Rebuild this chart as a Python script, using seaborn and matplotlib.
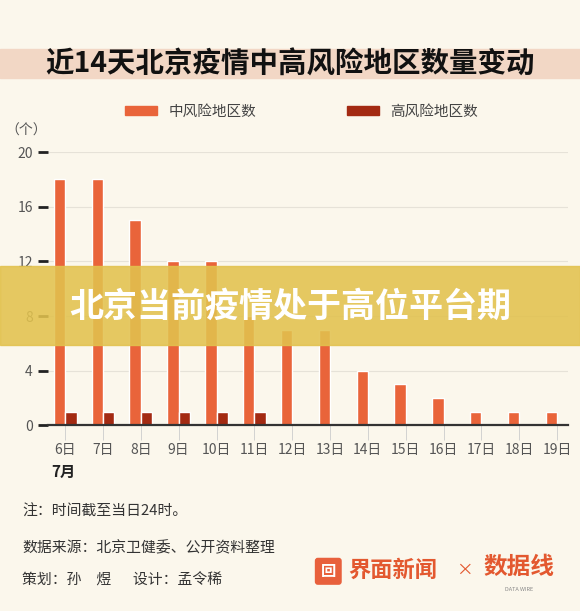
import seaborn as sns
import matplotlib.pyplot as plt
import pandas as pd
from matplotlib.patches import Rectangle, Patch, FancyBboxPatch

days = ['6日', '7日', '8日', '9日', '10日', '11日', '12日', '13日', '14日', '15日', '16日', '17日', '18日', '19日']
mid_risk = [18, 18, 15, 12, 12, 8, 7, 7, 4, 3, 2, 1, 1, 1]
high_risk = [1, 1, 1, 1, 1, 1, 0, 0, 0, 0, 0, 0, 0, 0]
series = ['中风险地区数', '高风险地区数']
colors = ['#E9643A', '#A32A12']
yticks = [0, 4, 8, 12, 16, 20]

bg = '#FBF7EC'
sns.set_theme(style='white')
plt.rcParams['font.family'] = ['Noto Sans CJK SC', 'DejaVu Sans']

df = pd.DataFrame({
    'day': days * 2,
    'value': mid_risk + high_risk,
    'type': [series[0]] * len(days) + [series[1]] * len(days),
})

fig = plt.figure(figsize=(5.8, 6.11), dpi=100, facecolor=bg)
ax = fig.add_axes([0.083, 0.304, 0.897, 0.447], facecolor=bg)

sns.barplot(data=df, x='day', y='value', hue='type', palette=colors, width=0.6,
            saturation=1, ax=ax, legend=False)
ax.set_xlim(-0.45, 13.3)
ax.set_ylim(0, 20)
ax.set_yticks(yticks)
ax.set_xlabel('')
ax.set_ylabel('')
for y in yticks[1:]:
    ax.axhline(y, color='#E6E2D8', lw=0.8, zorder=0)
for s in ['top', 'right', 'left']:
    ax.spines[s].set_visible(False)
ax.spines['bottom'].set_color('#333333')
ax.spines['bottom'].set_linewidth(1.6)
ax.tick_params(axis='y', length=7, width=2, color='#222222', labelsize=10,
               labelcolor='#555555', pad=4, left=True)
ax.tick_params(axis='x', length=11, width=0.6, color='#CCCCCC', labelsize=10,
               labelcolor='#555555', pad=2, bottom=True)
ax.set_xticks([i + 0.5 for i in range(13)], minor=True)
ax.tick_params(axis='x', which='minor', length=4, width=0.6, color='#CCCCCC')

# title band
fig.patches.append(Rectangle((0, 0.872), 1, 0.048, transform=fig.transFigure,
                             color='#F2D7C5', zorder=0))
fig.text(0.5, 0.895, '近14天北京疫情中高风险地区数量变动', ha='center', va='center',
         fontsize=20.5, fontweight='bold', color='#111111')

handles = [Patch(color=c) for c in colors]
fig.legend(handles, series, loc='center', bbox_to_anchor=(0.52, 0.817), ncol=2,
           frameon=False, fontsize=10.5, handlelength=2.2, handleheight=0.6,
           columnspacing=6.2, labelcolor='#444444')

fig.text(0.01, 0.786, '（个）', fontsize=10, color='#555555', va='center')
fig.text(0.088, 0.228, '7月', fontsize=11, fontweight='bold', color='#222222', va='center')

# banner
fig.patches.append(Rectangle((0, 0.435), 1, 0.13, transform=fig.transFigure,
                             color='#E2C24E', alpha=0.88, zorder=5))
fig.text(0.5, 0.498, '北京当前疫情处于高位平台期', ha='center', va='center',
         fontsize=24.5, fontweight='bold', color='white', zorder=6)

# footer
fig.text(0.038, 0.162, '注：时间截至当日24时。', fontsize=10.7, color='#333333', va='center')
fig.text(0.038, 0.103, '数据来源：北京卫健委、公开资料整理', fontsize=10.7, color='#333333', va='center')
fig.text(0.038, 0.05, '策划：孙　煜　  设计：孟令稀', fontsize=10.7, color='#333333', va='center')

fig.patches.append(FancyBboxPatch((0.548, 0.048), 0.036, 0.034, transform=fig.transFigure,
                                  boxstyle='round,pad=0.004', color='#E8603C'))
fig.text(0.566, 0.066, '回', fontsize=11, fontweight='bold', color='white', ha='center', va='center')
fig.text(0.6, 0.066, '界面新闻', fontsize=16, fontweight='bold', color='#E3582F', va='center')
fig.text(0.8, 0.066, '×', fontsize=12, color='#E3582F', va='center', ha='center')
fig.text(0.895, 0.072, '数据线', fontsize=17, fontweight='bold', color='#E3582F', va='center', ha='center')
fig.text(0.895, 0.036, 'DATA WIRE', fontsize=4, color='#888888', va='center', ha='center')

fig.savefig('out.png', dpi=100, facecolor=bg)
